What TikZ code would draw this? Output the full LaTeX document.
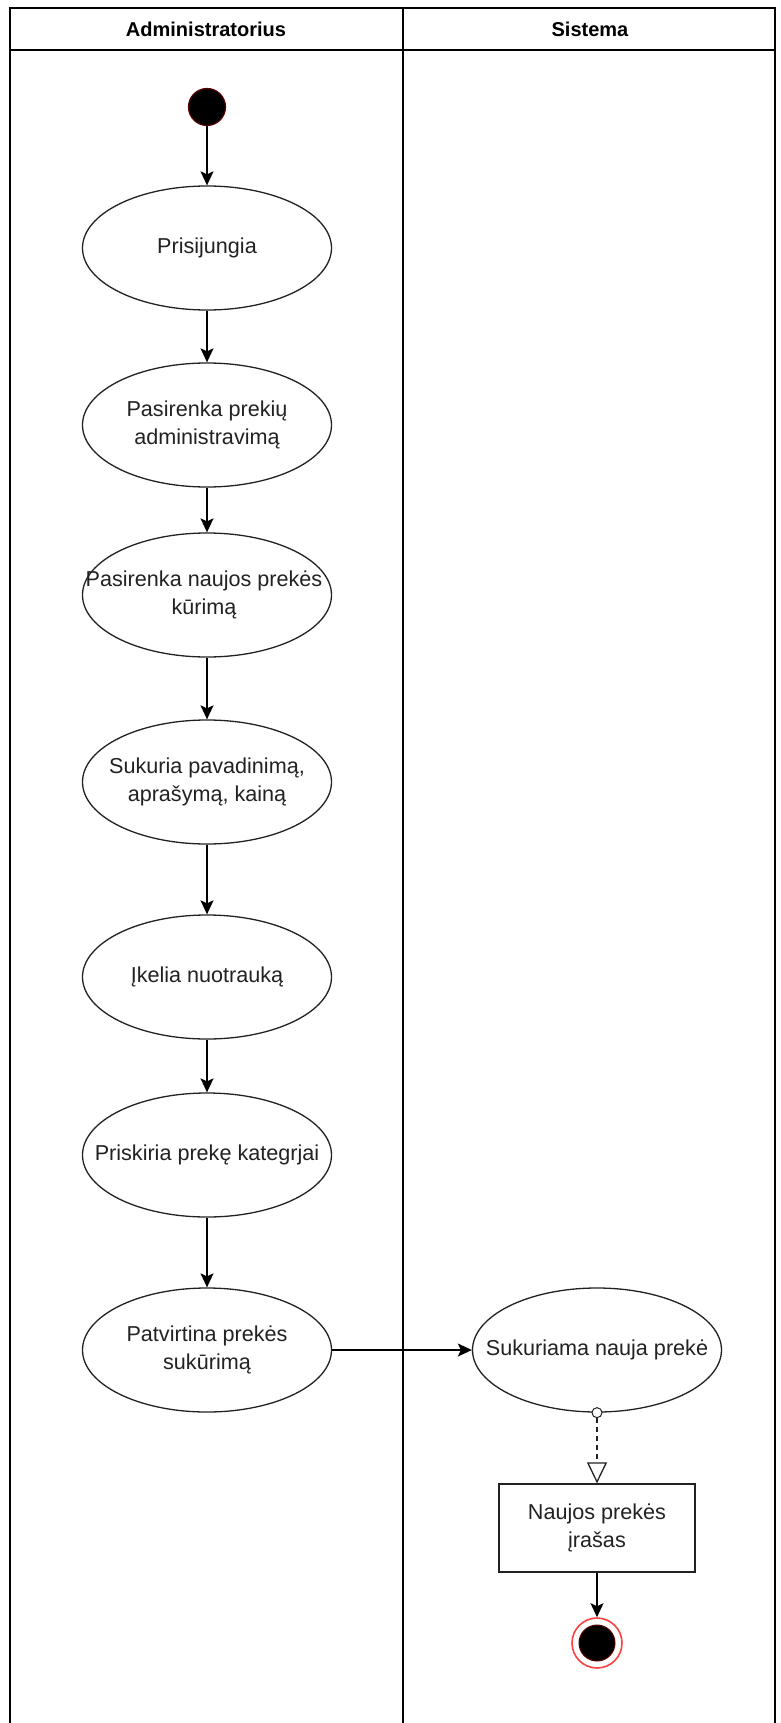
\documentclass[tikz,border=0pt]{standalone}
\usepackage{fontspec}
\setmainfont{Liberation Sans}
\usetikzlibrary{arrows.meta,shapes.geometric}
\definecolor{ink}{HTML}{222222}
\definecolor{startedge}{HTML}{5A0000}
\begin{document}
\begin{tikzpicture}[x=1pt,y=-1pt,
  frame/.style={line width=1.6pt, draw=black},
  act/.style={ellipse, draw=ink, line width=1.3pt, fill=white,
    minimum width=249pt, minimum height=124pt, inner sep=0pt},
  txt/.style={align=center, inner sep=0pt, text=ink,
    font=\fontsize{21.6}{28}\selectfont},
  head/.style={inner sep=0pt, text=black,
    font=\bfseries\fontsize{20}{24}\selectfont},
  flow/.style={draw=black, line width=1.4pt,
    -{Stealth[length=14pt,width=13pt,inset=3pt]}},
  initial/.style={circle, fill=black, draw=startedge, line width=1.2pt,
    minimum size=37pt, inner sep=0pt},
  finalring/.style={circle, fill=white, draw=red!75, line width=1.6pt,
    minimum size=50pt, inner sep=0pt},
  finaldot/.style={circle, fill=black, draw=startedge, line width=1pt,
    minimum size=36pt, inner sep=0pt},
  objbox/.style={rectangle, draw=ink, line width=1.3pt, fill=white,
    minimum width=196pt, minimum height=88pt, inner sep=0pt},
  port/.style={circle, draw=ink, fill=white, line width=1pt,
    minimum size=10pt, inner sep=0pt},
]
\useasboundingbox (0,0) rectangle (780,1723);
\fill[white] (0,0) rectangle (780,1723);

% swimlane frame
\draw[frame] (10,1723) -- (10,8) -- (775,8) -- (775,1723);
\draw[frame] (10,50) -- (775,50);
\draw[frame] (403,8) -- (403,1723);

\node[head] (hAdmin) at (206,29) {Administratorius};
\node[head] (hSys) at (590,29) {Sistema};

% administrator lane
\node[initial] (start) at (207,107) {};
\node[act] (e1) at (207,248) {};
\node[txt] (t1) at (e1) {Prisijungia};
\node[act] (e2) at (207,425) {};
\node[txt] (t2) at (e2) {Pasirenka prekių\\administravimą};
\node[act] (e3) at (207,595) {};
\node[txt] (t3) at ([xshift=-3pt]e3.center) {Pasirenka naujos prekės\\kūrimą};
\node[act] (e4) at (207,782) {};
\node[txt] (t4) at (e4) {Sukuria pavadinimą,\\aprašymą, kainą};
\node[act] (e5) at (207,977) {};
\node[txt] (t5) at (e5) {Įkelia nuotrauką};
\node[act] (e6) at (207,1155) {};
\node[txt] (t6) at (e6) {Priskiria prekę kategrjai};
\node[act] (e7) at (207,1350) {};
\node[txt] (t7) at (e7) {Patvirtina prekės\\sukūrimą};

% system lane
\node[act] (e8) at (597,1350) {};
\node[txt] (t8) at (e8) {Sukuriama nauja prekė};
\node[objbox] (rec) at (597,1528) {};
\node[txt] (t9) at (rec) {Naujos prekės\\įrašas};
\node[finalring] (endring) at (597,1643) {};
\node[finaldot] (enddot) at (endring) {};

% control flow
\draw[flow] (start) -- (e1);
\draw[flow] (e1) -- (e2);
\draw[flow] (e2) -- (e3);
\draw[flow] (e3) -- (e4);
\draw[flow] (e4) -- (e5);
\draw[flow] (e5) -- (e6);
\draw[flow] (e6) -- (e7);
\draw[flow] (e7) -- (e8);
\draw[flow] (rec) -- (endring);

% object flow
\node[port] (out) at (e8.south) {};
\draw[draw=ink, line width=1.3pt, dash pattern=on 5pt off 4pt,
  -{Triangle[open,length=21pt,width=20pt,line width=1.3pt]}] (out) -- (rec);
\end{tikzpicture}
\end{document}
